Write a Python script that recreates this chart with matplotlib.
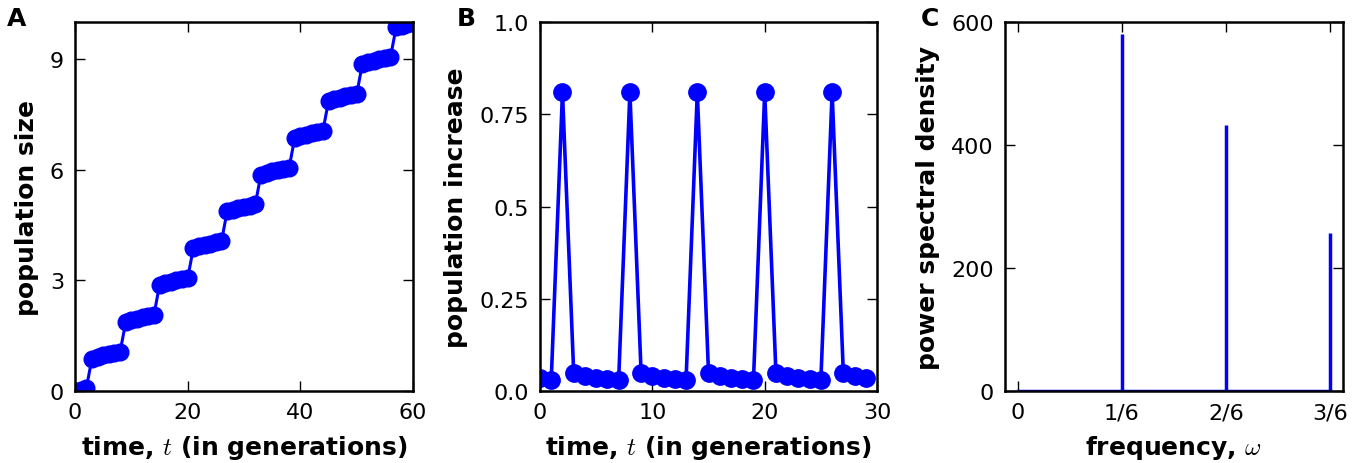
import matplotlib
matplotlib.use('Agg')
import matplotlib.pyplot as plt

# Panel B: population increase per generation (t = 0..29)
t_inc = list(range(30))
increase = [0.036, 0.030,
            0.81, 0.048, 0.041, 0.036, 0.033, 0.030,
            0.81, 0.048, 0.041, 0.036, 0.033, 0.030,
            0.81, 0.048, 0.041, 0.036, 0.033, 0.030,
            0.81, 0.048, 0.041, 0.036, 0.033, 0.030,
            0.81, 0.048, 0.041, 0.036]

# Panel A: population size (t = 0..60)
t_size = list(range(61))
size = [0.0, 0.04, 0.07,
        0.88, 0.92, 0.97, 1.00, 1.03, 1.06,
        1.87, 1.92, 1.96, 2.00, 2.03, 2.06,
        2.87, 2.92, 2.96, 3.00, 3.03, 3.06,
        3.87, 3.92, 3.96, 4.00, 4.03, 4.06,
        4.87, 4.92, 4.96, 4.99, 5.03, 5.06,
        5.87, 5.91, 5.96, 5.99, 6.02, 6.05,
        6.86, 6.91, 6.95, 6.99, 7.02, 7.05,
        7.86, 7.91, 7.95, 7.99, 8.02, 8.05,
        8.86, 8.91, 8.95, 8.99, 9.02, 9.05,
        9.86, 9.91, 9.95, 9.98]

# Panel C: power spectral density peaks
freqs = [1/6, 2/6, 3/6]
psd = [580, 432, 257]
freq_ticks = [0, 1/6, 2/6, 3/6]
freq_labels = ['0', '1/6', '2/6', '3/6']

plt.rcParams['font.family'] = 'DejaVu Sans'
plt.rcParams['mathtext.fontset'] = 'cm'
plt.rcParams['font.size'] = 16
plt.rcParams['axes.labelsize'] = 18
plt.rcParams['axes.labelweight'] = 'bold'
plt.rcParams['axes.labelpad'] = 8
plt.rcParams['axes.linewidth'] = 1.8
plt.rcParams['xtick.direction'] = 'in'
plt.rcParams['ytick.direction'] = 'in'
plt.rcParams['xtick.top'] = True
plt.rcParams['ytick.right'] = True
plt.rcParams['xtick.major.size'] = 7
plt.rcParams['ytick.major.size'] = 7
plt.rcParams['xtick.major.width'] = 1.0
plt.rcParams['ytick.major.width'] = 1.0
plt.rcParams['xtick.major.pad'] = 8
plt.rcParams['ytick.major.pad'] = 8

fig = plt.figure(figsize=(13.64, 4.64), dpi=100)
axA = fig.add_axes([0.055, 0.155, 0.2478, 0.795])
axB = fig.add_axes([0.3959, 0.155, 0.2471, 0.795])
axC = fig.add_axes([0.7368, 0.155, 0.2478, 0.795])

# A
axA.plot(t_size, size, 'o-', color='b', mec='b', ms=12, lw=2.2)
axA.set_xlim(0, 60)
axA.set_ylim(0, 10)
axA.set_xticks([0, 20, 40, 60])
axA.set_yticks([0, 3, 6, 9])
axA.set_xlabel('time, $t$ (in generations)')
axA.set_ylabel('population size')

# B
axB.plot(t_inc, increase, 'o-', color='b', mec='b', ms=12.5, lw=2.6)
axB.set_xlim(0, 30)
axB.set_ylim(0, 1.0)
axB.set_xticks([0, 10, 20, 30])
axB.set_yticks([0, 0.25, 0.5, 0.75, 1.0])
axB.set_yticklabels(['0.0', '0.25', '0.5', '0.75', '1.0'])
axB.set_xlabel('time, $t$ (in generations)')
axB.set_ylabel('population increase')

# C
axC.plot([0, freqs[-1]], [0, 0], color='b', lw=2.5)
axC.vlines(freqs, 0, psd, color='b', lw=2.5)
axC.set_xlim(-0.02, 0.52)
axC.set_ylim(0, 600)
axC.set_xticks(freq_ticks)
axC.set_xticklabels(freq_labels)
axC.set_yticks([0, 200, 400, 600])
axC.set_xlabel('frequency, $\\omega$')
axC.set_ylabel('power spectral density')

for lab, x in zip('ABC', [0.005, 0.335, 0.675]):
    fig.text(x, 0.985, lab, fontsize=18, fontweight='bold', va='top', ha='left')

fig.savefig('out.png', dpi=100)
